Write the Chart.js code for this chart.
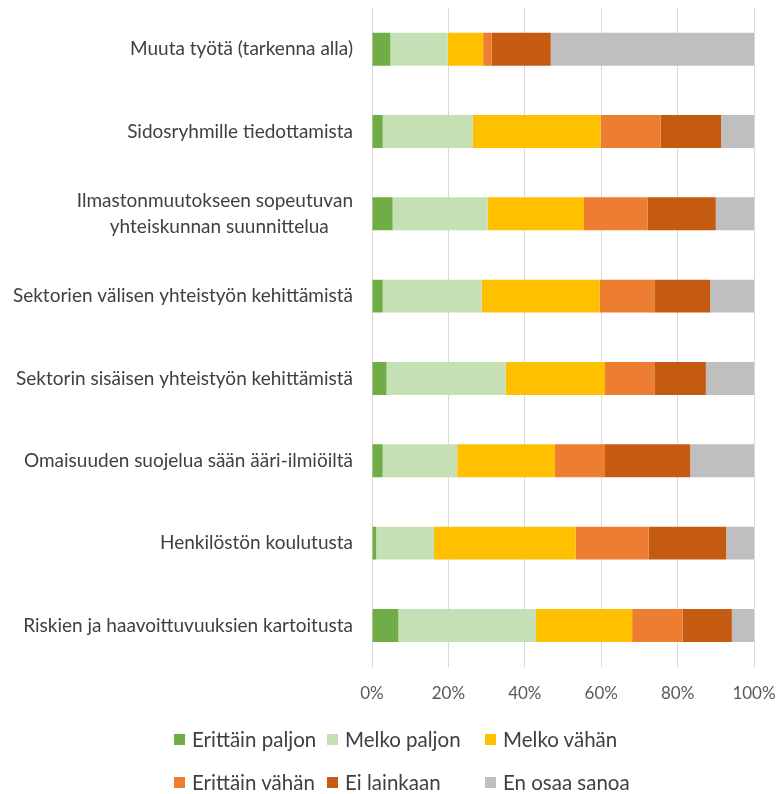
<!DOCTYPE html>
<html>
<head>
<meta charset="utf-8">
<script src="https://cdn.jsdelivr.net/npm/chart.js@4"></script>
<style>
  html, body { margin: 0; padding: 0; background: #ffffff; }
  #wrap { position: relative; width: 781px; height: 794px; }
  #legend { position: absolute; left: 0; top: 0; width: 781px; height: 794px; pointer-events: none;
    font-family: "Lato", sans-serif; font-size: 20.5px; color: #404040; }
  .item { position: absolute; display: flex; align-items: center; white-space: nowrap; transform: translateY(-50%); }
  .box { width: 11px; height: 11px; margin-right: 7px; }
</style>
</head>
<body>
<div id="wrap">
  <canvas id="chart" width="781" height="794"></canvas>
  <div id="legend"></div>
</div>
<script>
const categories = [
  "Muuta työtä (tarkenna alla)",
  "Sidosryhmille tiedottamista",
  ["Ilmastonmuutokseen sopeutuvan", "yhteiskunnan suunnittelua     "],
  "Sektorien välisen yhteistyön kehittämistä",
  "Sektorin sisäisen yhteistyön kehittämistä",
  "Omaisuuden suojelua sään ääri-ilmiöiltä",
  "Henkilöstön koulutusta",
  "Riskien ja haavoittuvuuksien kartoitusta"
];

const seriesNames = ["Erittäin paljon", "Melko paljon", "Melko vähän", "Erittäin vähän", "Ei lainkaan", "En osaa sanoa"];
const seriesColors = ["#70AD47", "#C5E0B4", "#FFC000", "#ED7D31", "#C55A11", "#BFBFBF"];

const erittainPaljon = [4.8, 2.8, 5.4, 2.8, 3.8, 2.8, 1.1, 6.9];
const melkoPaljon = [15.0, 23.6, 24.9, 25.9, 31.2, 19.5, 15.1, 36.0];
const melkoVahan = [9.3, 33.4, 25.2, 30.9, 26.0, 25.6, 37.1, 25.2];
const erittainVahan = [2.2, 15.8, 16.6, 14.3, 12.9, 13.1, 19.1, 13.2];
const eiLainkaan = [15.5, 15.8, 17.9, 14.6, 13.5, 22.3, 20.3, 12.9];
const enOsaaSanoa = [53.2, 8.6, 10.0, 11.5, 12.6, 16.7, 7.3, 5.8];

const xTicks = [0, 20, 40, 60, 80, 100];

const seriesValues = [erittainPaljon, melkoPaljon, melkoVahan, erittainVahan, eiLainkaan, enOsaaSanoa];

const FONT = "'Lato', sans-serif";

const datasets = seriesNames.map((name, i) => ({
  label: name,
  data: seriesValues[i],
  backgroundColor: seriesColors[i],
  borderWidth: 0,
  barPercentage: 0.4,
  categoryPercentage: 1.0,
}));

new Chart(document.getElementById("chart").getContext("2d"), {
  type: "bar",
  data: { labels: categories, datasets: datasets },
  options: {
    indexAxis: "y",
    responsive: false,
    animation: false,
    layout: { padding: { top: 8, right: 27, bottom: 73, left: 0 } },
    plugins: {
      legend: { display: false },
      tooltip: { enabled: false },
    },
    scales: {
      x: {
        stacked: true,
        min: 0,
        max: 100,
        afterBuildTicks: (scale) => {
          scale.ticks = xTicks.map((v) => ({ value: v }));
        },
        afterFit: (scale) => {
          scale.paddingLeft = 0;
          scale.paddingRight = 0;
        },
        grid: { color: "#D9D9D9", lineWidth: 1, drawTicks: false },
        border: { display: false },
        ticks: {
          color: "#595959",
          font: { family: FONT, size: 17 },
          padding: 17,
          callback: (v) => v + "%",
        },
      },
      y: {
        stacked: true,
        grid: { display: false },
        border: { display: false },
        afterFit: (scale) => {
          scale.width = 372;
          scale.paddingTop = 0;
          scale.paddingBottom = 0;
        },
        ticks: {
          color: "#404040",
          font: { family: FONT, size: 19, lineHeight: 1.35 },
          padding: 11,
        },
      },
    },
  },
});

// legend laid out as Excel does: three columns, two rows
const legendCols = [174, 327, 485];
const legendRows = [739, 782];
const legendEl = document.getElementById("legend");
seriesNames.forEach((name, i) => {
  const item = document.createElement("div");
  item.className = "item";
  item.style.left = legendCols[i % 3] + "px";
  item.style.top = legendRows[Math.floor(i / 3)] + "px";
  const box = document.createElement("span");
  box.className = "box";
  box.style.background = seriesColors[i];
  const txt = document.createElement("span");
  txt.textContent = name;
  item.appendChild(box);
  item.appendChild(txt);
  legendEl.appendChild(item);
});
</script>
</body>
</html>
